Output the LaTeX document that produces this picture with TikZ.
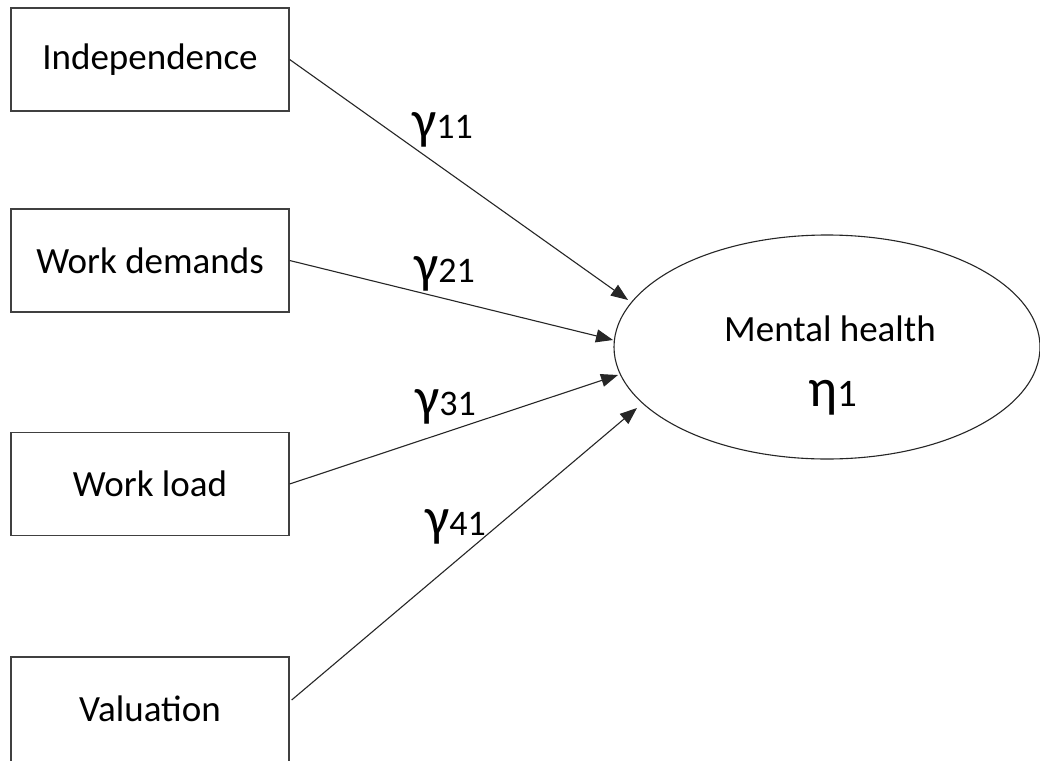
\documentclass[tikz,border=0pt]{standalone}
\usepackage{fontspec}
\setmainfont{Carlito}
\usetikzlibrary{arrows.meta,calc,shapes.geometric}
\begin{document}
\begin{tikzpicture}[x=1pt,y=-1pt,
  varbox/.style={draw=black!75,line width=1.3pt,minimum width=278pt,minimum height=103pt,inner sep=0pt,font=\fontsize{37}{44}\selectfont},
  path/.style={draw=black!85,line width=1.1pt,-{Triangle[length=17pt,width=13pt]}},
  coef/.style={anchor=base west,inner sep=0pt}]
\useasboundingbox (0,0) rectangle (1040,760);
\fill[white] (0,0) rectangle (1040,760);
\node[varbox] (ind) at (150,59.5) {Independence};
\node[varbox] (wd) at (150,260.5) {Work demands};
\node[varbox] (wl) at (150,484) {Work load};
\node[varbox,minimum height=110pt] (val) at (150,712) {\raisebox{6pt}{Valuation}};
\node[draw=black!85,line width=1.1pt,ellipse,minimum width=426pt,minimum height=224pt,inner sep=0pt] (mh) at (827,347) {};
\node[font=\fontsize{37}{44}\selectfont] (mhl) at (830,329) {Mental health};
\node[coef] (eta) at (808,406) {{\fontsize{54}{54}\selectfont η}{\fontsize{39}{39}\selectfont 1}};
\coordinate (t1) at ($(mh.center)+(-199,-47)$);
\coordinate (t2) at ($(mh.center)+(-214,-7)$);
\coordinate (t3) at ($(mh.center)+(-209,28)$);
\coordinate (t4) at ($(mh.center)+(-190,61)$);
\draw[path] (ind.east) -- (t1);
\draw[path] (wd.east) -- (t2);
\draw[path] (wl.east) -- (t3);
\draw[path] ($(val.east)+(2,-12)$) -- (t4);
\node[coef] (g11) at (412,138) {{\fontsize{54}{54}\selectfont γ}{\fontsize{36}{36}\selectfont 11}};
\node[coef] (g21) at (414,282) {{\fontsize{54}{54}\selectfont γ}{\fontsize{36}{36}\selectfont 21}};
\node[coef] (g31) at (415,415) {{\fontsize{54}{54}\selectfont γ}{\fontsize{36}{36}\selectfont 31}};
\node[coef] (g41) at (425,535) {{\fontsize{54}{54}\selectfont γ}{\fontsize{36}{36}\selectfont 41}};
\end{tikzpicture}
\end{document}
